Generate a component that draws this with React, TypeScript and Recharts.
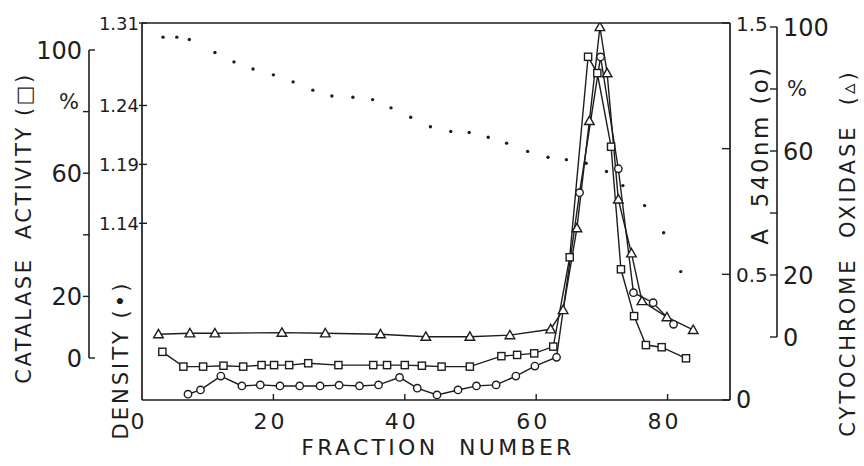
import { ComposedChart, Line, Scatter, XAxis, YAxis, ReferenceLine } from "recharts";

const ink = "#1d1d1d";
const font = "'DejaVu Sans', Verdana, sans-serif";

// chart geometry
const W = 864;
const H = 466;
const PLOT = { left: 142, right: 730, top: 23, bottom: 400 };
const DENSITY_W = 53; // density ticks sit between frame and catalase scale
const CAT_W = PLOT.left - DENSITY_W;
const A540_W = 47; // A540 ticks sit between frame and cytochrome scale
const CYT_W = W - PLOT.right - A540_W;
const X_MAX = 89.5;
const pxPerFraction = (PLOT.right - PLOT.left) / X_MAX;

// axis ids; axes on one side are stacked outward in id order
const DENS = "l1-density";
const CAT = "l2-catalase";
const A540 = "r1-a540";
const CYT = "r2-cytochrome";

// cytochrome oxidase (triangles), % of peak
const cytFractions = [2.5, 7.3, 11.1, 21.3, 27.9, 36.3, 43.2, 49.9, 56, 62.2, 64.1, 66.2, 68.1, 69.7, 70.8, 72.5, 74.5, 76.1, 79.9, 83.9];
const cytOxidase = [0.9, 1.2, 1.2, 1.4, 1.2, 0.9, 0.1, 0.1, 0.6, 2.5, 8.7, 35.1, 69.7, 100, 85.1, 44.4, 27, 11.6, 6.4, 2.3];

// catalase activity (squares), % of peak
const catFractions = [3.1, 6.3, 9.3, 12.4, 15.4, 18.2, 20.1, 22.4, 25.3, 29.9, 35.2, 37.3, 40, 42.6, 45.6, 49.9, 54.7, 57.1, 59.7, 62.6, 65.1, 67.9, 69.3, 71.4, 72.9, 74.9, 76.7, 79.1, 82.8];
const catalase = [2.0, -2.8, -2.8, -2.5, -2.8, -2.3, -2.3, -2.3, -1.7, -2.3, -2.3, -2.3, -2.3, -2.5, -2.8, -2.8, 0.6, 1.0, 1.5, 3.7, 32.7, 97.8, 92.5, 68.6, 28.8, 13.6, 4.2, 3.5, -0.1];

// protein, absorbance at 540 nm (circles)
const a540Fractions = [7.0, 8.9, 12, 15.2, 18, 21, 24, 27.1, 30, 33.1, 36, 39.2, 41.9, 44.9, 48.1, 50.9, 53.9, 56.9, 59.8, 63.1, 66.6, 69.8, 72.5, 74.8, 77.8, 80.9];
const a540 = [0.023, 0.04, 0.095, 0.056, 0.06, 0.056, 0.056, 0.056, 0.059, 0.056, 0.06, 0.09, 0.047, 0.02, 0.04, 0.056, 0.06, 0.095, 0.135, 0.17, 0.825, 1.365, 0.92, 0.427, 0.387, 0.301];

// gradient density (small dots)
const densityFractions = [3.2, 5.3, 7.2, 11.1, 14, 16.9, 20, 23, 26, 28.9, 32.1, 35.1, 37.9, 40.9, 43.9, 47, 49.8, 52.7, 55.5, 58.7, 61.8, 64.6, 67.6, 70.7, 73.2, 76.5, 79.4, 82];
const density = [1.298, 1.298, 1.296, 1.285, 1.277, 1.271, 1.266, 1.26, 1.253, 1.248, 1.247, 1.245, 1.238, 1.23, 1.222, 1.218, 1.217, 1.213, 1.208, 1.201, 1.196, 1.194, 1.191, 1.184, 1.172, 1.155, 1.132, 1.099];

// ticks
const fractionTicks = [0, 20, 40, 60, 80];
const densityTicks = [1.14, 1.19, 1.24, 1.31];
const percentTicks = [0, 20, 40, 60, 80, 100];
const a540Ticks = [0, 0.5, 1, 1.5];

const rows = (xs: number[], ys: number[]) => xs.map((f, i) => ({ f, v: ys[i] }));
const cytRows = rows(cytFractions, cytOxidase);
const catRows = rows(catFractions, catalase);
const a540Rows = rows(a540Fractions, a540);
const densityRows = rows(densityFractions, density);

const catAxisX = -DENSITY_W / pxPerFraction;
const cytAxisX = X_MAX + A540_W / pxPerFraction;

const frame = { stroke: ink, strokeWidth: 1.7 };
const mark = { stroke: ink, strokeWidth: 1.4, fill: "#fff" };
const txt = { fill: ink, fontFamily: font };

function SquareDot({ cx, cy }: any) {
  return <rect x={cx - 3.6} y={cy - 3.6} width={7.2} height={7.2} {...mark} />;
}
function CircleDot({ cx, cy }: any) {
  return <circle cx={cx} cy={cy} r={3.7} {...mark} />;
}
function TriangleDot({ cx, cy }: any) {
  return <path d={`M${cx},${cy - 4.8}L${cx + 4.8},${cy + 3.6}L${cx - 4.8},${cy + 3.6}Z`} {...mark} />;
}

function FractionTick({ x, y, payload }: any) {
  return (
    <g>
      {payload.value > 0 && <line x1={x} x2={x} y1={y} y2={y - 6} stroke={ink} strokeWidth={1.4} />}
      <text x={x - 3} y={y + 29} textAnchor="middle" fontSize={22} letterSpacing={3} {...txt}>{payload.value}</text>
    </g>
  );
}

function DensityTick({ x, y, payload }: any) {
  return (
    <g>
      <line x1={x - 3} x2={x + 5} y1={y} y2={y} stroke={ink} strokeWidth={1.4} />
      <text x={x - 3} y={y + 7} textAnchor="end" fontSize={18} {...txt}>{payload.value.toFixed(2)}</text>
    </g>
  );
}

function CatalaseTick({ x, y, payload }: any) {
  const v = payload.value;
  const end = v === 0 || v === 100;
  return (
    <g>
      <line x1={x} x2={end ? x + 6 : x - 6} y1={y} y2={y} stroke={ink} strokeWidth={1.4} />
      {v === 80 ? (
        <text x={x - 10} y={y - 3} textAnchor="end" fontSize={21} {...txt}>%</text>
      ) : v !== 40 ? (
        <text x={x - 7} y={y + 9} textAnchor="end" fontSize={24} {...txt}>{v}</text>
      ) : null}
    </g>
  );
}

function A540Tick({ x, y, payload }: any) {
  const v = payload.value;
  return (
    <g>
      <line x1={x - 8} x2={x} y1={y} y2={y} stroke={ink} strokeWidth={1.4} />
      {v !== 1 && (
        <text x={x + 6} y={y + 8} textAnchor="start" fontSize={v === 0 ? 24 : 20} {...txt}>{v === 0 ? "0" : v.toFixed(1)}</text>
      )}
    </g>
  );
}

function CytTick({ x, y, payload }: any) {
  const v = payload.value;
  return (
    <g>
      <line x1={x - 7} x2={x} y1={y} y2={y} stroke={ink} strokeWidth={1.4} />
      {v === 80 ? (
        <text x={x + 10} y={y + 7} textAnchor="start" fontSize={21} {...txt}>%</text>
      ) : v !== 40 ? (
        <text x={x + 6} y={y + 9} textAnchor="start" fontSize={24} {...txt}>{v}</text>
      ) : null}
    </g>
  );
}

function Title({ x, y, size, spacing, children }: any) {
  return (
    <text x={x} y={y} transform={`rotate(-90 ${x} ${y})`} textAnchor="middle" dominantBaseline="central" fontSize={size} letterSpacing={spacing} {...txt}>
      {children}
    </text>
  );
}

export default function App() {
  return (
    <div style={{ position: "absolute", left: 0, top: 0, width: W, height: H, background: "#fff" }}>
      <ComposedChart width={W} height={H} margin={{ top: PLOT.top, right: 0, bottom: 0, left: 0 }}>
        <XAxis type="number" dataKey="f" domain={[0, X_MAX]} ticks={fractionTicks} interval={0} height={H - PLOT.bottom}
          axisLine={frame} tickLine={false} tickSize={0} tickMargin={0} tick={<FractionTick />} allowDataOverflow />
        <YAxis yAxisId={DENS} orientation="left" width={DENSITY_W} domain={[0.99, 1.31]} ticks={densityTicks} interval={0}
          axisLine={frame} tickLine={false} tickSize={0} tickMargin={0} tick={<DensityTick />} allowDataOverflow />
        <YAxis yAxisId={CAT} orientation="left" width={CAT_W} domain={[-13.64, 108.77]} ticks={percentTicks} interval={0}
          axisLine={false} tickLine={false} tickSize={0} tickMargin={0} tick={<CatalaseTick />} allowDataOverflow />
        <YAxis yAxisId={A540} orientation="right" width={A540_W} domain={[0, 1.5]} ticks={a540Ticks} interval={0}
          axisLine={frame} tickLine={false} tickSize={0} tickMargin={0} tick={<A540Tick />} allowDataOverflow />
        <YAxis yAxisId={CYT} orientation="right" width={CYT_W} domain={[-20.32, 101.29]} ticks={percentTicks} interval={0}
          axisLine={false} tickLine={false} tickSize={0} tickMargin={0} tick={<CytTick />} allowDataOverflow />

        {/* top edge of the frame */}
        <ReferenceLine yAxisId={DENS} y={1.31} {...frame} ifOverflow="visible" />
        {/* outer percentage scales only run from 0 to 100 */}
        <ReferenceLine yAxisId={CAT} segment={[{ x: catAxisX, y: 0 }, { x: catAxisX, y: 100 }]} stroke={ink} strokeWidth={1.6} ifOverflow="visible" />
        <ReferenceLine yAxisId={CYT} segment={[{ x: cytAxisX, y: 0 }, { x: cytAxisX, y: 100 }]} stroke={ink} strokeWidth={1.6} ifOverflow="visible" />

        <Scatter yAxisId={DENS} data={densityRows} dataKey="v" isAnimationActive={false}
          shape={(p: any) => <circle cx={p.cx} cy={p.cy} r={1.7} fill={ink} />} />
        <Line yAxisId={CYT} data={cytRows} dataKey="v" type="linear" stroke={ink} strokeWidth={1.4} isAnimationActive={false}
          dot={(p: any) => <TriangleDot key={`t${p.index}`} {...p} />} activeDot={false} />
        <Line yAxisId={CAT} data={catRows} dataKey="v" type="linear" stroke={ink} strokeWidth={1.4} isAnimationActive={false}
          dot={(p: any) => <SquareDot key={`s${p.index}`} {...p} />} activeDot={false} />
        <Line yAxisId={A540} data={a540Rows} dataKey="v" type="linear" stroke={ink} strokeWidth={1.4} isAnimationActive={false}
          dot={(p: any) => <CircleDot key={`c${p.index}`} {...p} />} activeDot={false} />

        <Title x={24} y={228} size={21} spacing={2.5}>CATALASE{"\u00a0\u00a0"}ACTIVITY (□)</Title>
        <Title x={121} y={360} size={21} spacing={3}>DENSITY (•)</Title>
        <Title x={760} y={155} size={23} spacing={2.4}>A{"\u00a0\u00a0"}540nm{"\u00a0"}(o)</Title>
        <Title x={848} y={253} size={21} spacing={3}>CYTOCHROME{"\u00a0\u00a0"}OXIDASE{"\u00a0\u00a0"}(▵)</Title>
        <text x={438} y={455} textAnchor="middle" fontSize={22} letterSpacing={3.3} {...txt}>FRACTION{"\u00a0\u00a0"}NUMBER</text>
      </ComposedChart>
    </div>
  );
}
